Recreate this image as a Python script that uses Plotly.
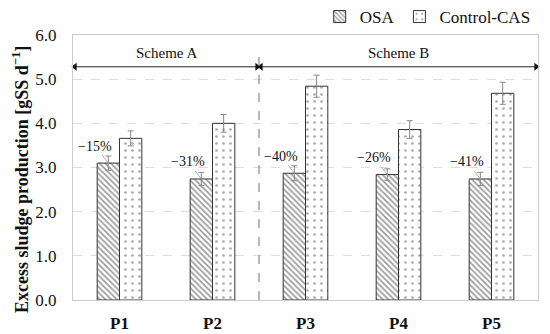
import plotly.graph_objects as go

categories = ["P1", "P2", "P3", "P4", "P5"]
osa = [3.10, 2.74, 2.87, 2.84, 2.74]
osa_err = [0.16, 0.15, 0.17, 0.13, 0.15]
cas = [3.66, 4.00, 4.84, 3.86, 4.68]
cas_err = [0.17, 0.20, 0.25, 0.20, 0.25]
reductions = ["\u221215%", "\u221231%", "\u221240%", "\u221226%", "\u221241%"]
schemes = ["Scheme A", "Scheme B"]
scheme_bounds = [-0.5, 1.5, 4.5]
scheme_arrow_y = 5.28
y_title = "Excess sludge production [gSS d<sup>\u22121</sup>]"

xs = list(range(len(categories)))
FONT = "Liberation Serif"

fig = go.Figure()
fig.add_trace(go.Bar(
    x=xs, y=osa, name="OSA", offsetgroup="a",
    marker=dict(color="white", line=dict(color="#333", width=1),
                pattern=dict(shape="\\", fgcolor="#333", bgcolor="white", size=4, solidity=0.4)),
    error_y=dict(type="data", array=osa_err, color="#888", thickness=1, width=3),
))
fig.add_trace(go.Bar(
    x=xs, y=cas, name="Control-CAS", offsetgroup="b",
    marker=dict(color="white", line=dict(color="#333", width=1),
                pattern=dict(shape=".", fgcolor="#555", bgcolor="white", size=7, solidity=0.12)),
    error_y=dict(type="data", array=cas_err, color="#888", thickness=1, width=3),
))

# reduction labels
for i, (v, t) in enumerate(zip(osa, reductions)):
    fig.add_annotation(x=i - 0.12, y=v, text=t, showarrow=True, arrowhead=0,
                       arrowcolor="#999", arrowwidth=0.8, ax=-13, ay=-17,
                       font=dict(family=FONT, size=14, color="#111"))

# scheme arrows (lines with triangle heads)
for k in range(len(schemes)):
    a, b = scheme_bounds[k] + 0.02, scheme_bounds[k + 1] - 0.02
    fig.add_trace(go.Scatter(
        x=[a, b], y=[scheme_arrow_y, scheme_arrow_y], mode="lines+markers",
        line=dict(color="#222", width=1),
        marker=dict(symbol=["triangle-left", "triangle-right"], size=7, color="#111"),
        showlegend=False, hoverinfo="skip", cliponaxis=False))
    fig.add_annotation(x=(scheme_bounds[k] + scheme_bounds[k + 1]) / 2, y=5.59,
                       text=schemes[k], showarrow=False,
                       font=dict(family=FONT, size=15, color="#111"))

fig.add_shape(type="line", x0=scheme_bounds[1], x1=scheme_bounds[1], y0=0, y1=5.5,
              xref="x", yref="y", line=dict(color="#888", width=1.2, dash="dash"))

# y title as annotation (positioned like the reference)
fig.add_annotation(xref="paper", yref="paper", x=(20 - 73) / 465, y=(300 - 180) / 265,
                   xanchor="center", yanchor="middle",
                   text=y_title, textangle=-90, showarrow=False,
                   font=dict(family=FONT, size=18, weight="bold", color="#111"))

# page body adds an 8px offset, so the figure is sized 8px smaller
fig.update_layout(
    width=542, height=326,
    margin=dict(l=65, r=12, t=27, b=34, autoexpand=False),
    paper_bgcolor="white", plot_bgcolor="white",
    font=dict(family=FONT, size=16, color="#111"),
    barmode="group", bargap=0.52, bargroupgap=0,
    showlegend=True,
    legend=dict(orientation="h", x=0.995, xanchor="right", y=1 + 18 / 265, yanchor="middle",
                font=dict(family=FONT, size=17), itemwidth=30, traceorder="normal",
                bgcolor="rgba(0,0,0,0)"),
    xaxis=dict(tickmode="array", tickvals=xs, ticktext=categories, range=[-0.5, 4.5],
               showline=True, linecolor="#ccc", mirror=True, ticks="outside", ticklen=8,
               tickcolor="rgba(0,0,0,0)",
               tickfont=dict(family=FONT, size=17, weight="bold"), showgrid=False),
    yaxis=dict(range=[0, 6], dtick=1, tickformat=".1f", showline=True, linecolor="#ccc",
               mirror=True, gridcolor="#ddd", griddash="dash", zeroline=False,
               ticks="outside", ticklen=12, tickcolor="rgba(0,0,0,0)",
               tickfont=dict(family=FONT, size=17)),
)

fig.write_html("out.html")
